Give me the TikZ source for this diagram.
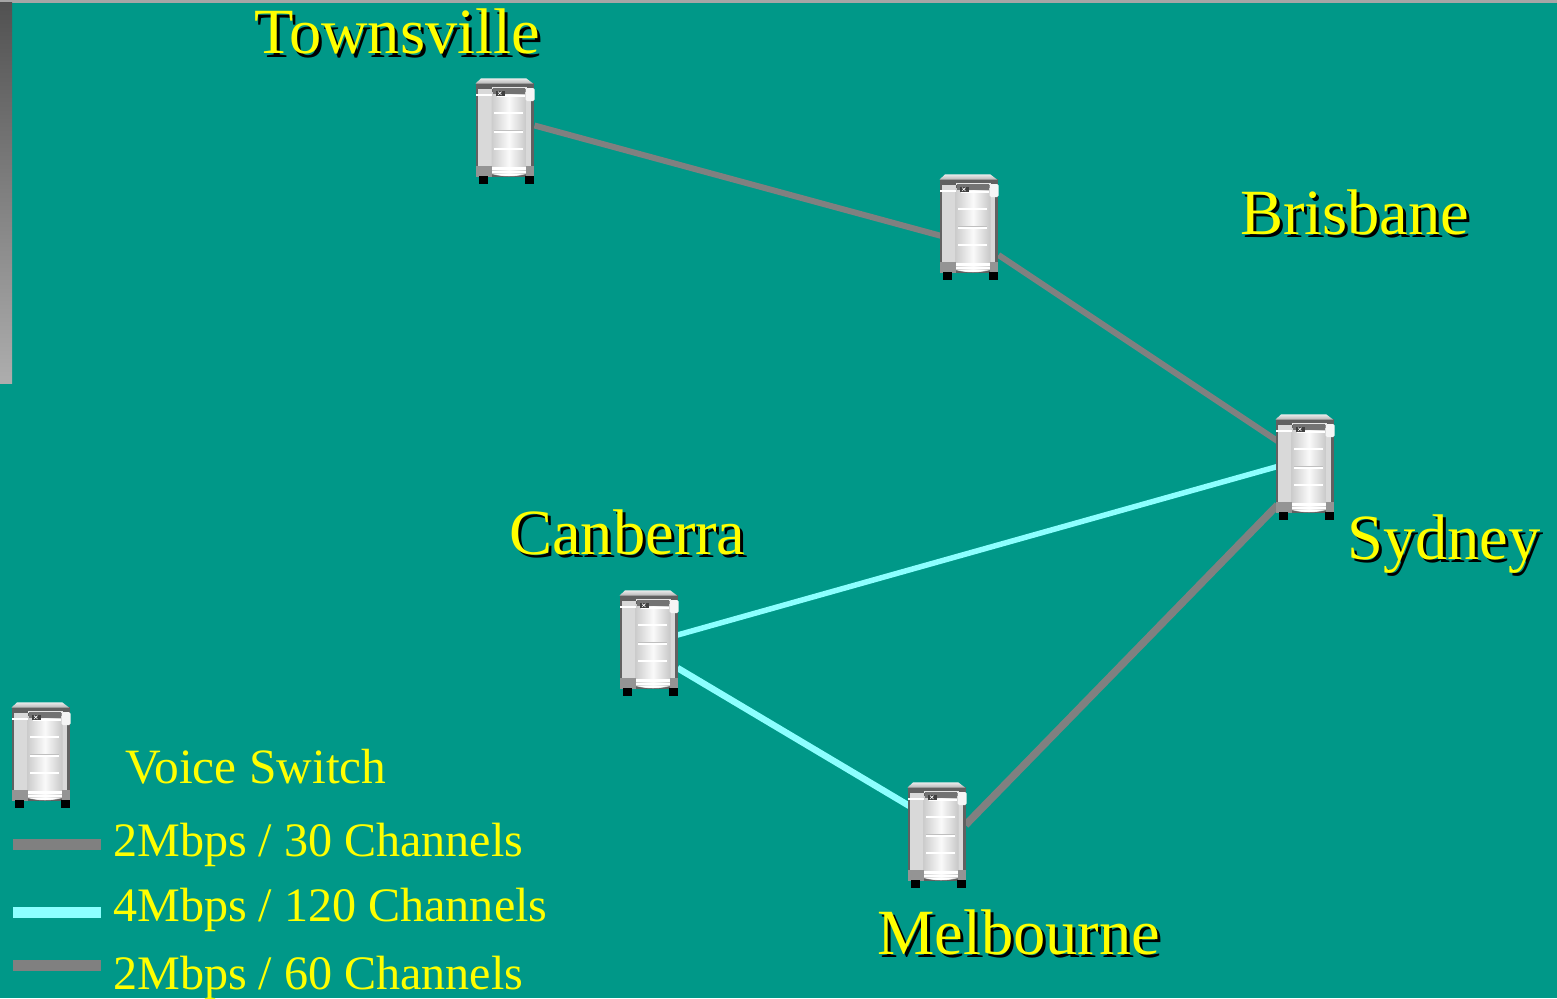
\documentclass[tikz,border=0pt]{standalone}
\usepackage{fontspec}
\setmainfont{Liberation Serif}
\definecolor{bg}{RGB}{0,152,136}
\definecolor{linegray}{RGB}{128,128,128}
\definecolor{linecyan}{RGB}{140,255,255}
\definecolor{txt}{RGB}{255,255,0}
\newcommand{\shadowed}[1]{\makebox[0pt][l]{\kern3pt\raisebox{-3pt}{\color{black}#1}}{\color{txt}#1}}
\tikzset{
  switchbox/.style={minimum width=59pt,minimum height=105pt,inner sep=0pt,outer sep=0pt},
  city/.style={anchor=base west,inner sep=0pt,font=\fontsize{64.5pt}{70pt}\selectfont},
  legendtext/.style={anchor=base west,inner sep=0pt,text=txt,font=\fontsize{48.1pt}{54pt}\selectfont},
  graylink/.style={draw=linegray,line width=6pt},
  cyanlink/.style={draw=linecyan,line width=5.5pt},
  legendgray/.style={draw=linegray,line width=11pt},
  legendcyan/.style={draw=linecyan,line width=11pt},
  switchart/.pic={
    % body
    \fill[black!62] (0.7,5) rectangle (58,99);
    % top cap
    \shade[top color=black!8,bottom color=black!28] (0,5.5) -- (5.7,0.3) -- (50.7,0.3) -- (57.5,5.5) -- cycle;
    % side panels
    \fill[black!15] (2.5,11) rectangle (16,88);
    \fill[black!15] (50,11) rectangle (55.5,88);
    % cylinder
    \shade[left color=black!20,right color=black!22,middle color=black!2] (16,14) -- (51,14) -- (51,96) .. controls (40,99) and (27,99) .. (16,96) -- cycle;
    % top trim
    \fill[white] (0.5,15.5) rectangle (16,18);
    \fill[white!90!black] (16,9) rectangle (51,11);
    % display
    \fill[black!55] (17,10) rectangle (49,16);
    \fill[white] (21,17) rectangle (49,18.5);
    \fill[black!75] (20,13) rectangle (29,17.5);
    \draw[white,line width=0.6pt] (22.5,13.6) -- (26,17) (26,13.6) -- (22.5,17);
    % knob
    \fill[black!4,rounded corners=1.5pt] (50,10) rectangle (59,23);
    % ribs
    \foreach \ry in {35,53.5,71}{
      \draw[black!25,line width=0.4pt] (18,\ry-1) -- (47,\ry-1);
      \fill[white] (18,\ry-0.8) rectangle (47,\ry+1);
    }
    % base
    \fill[black!42] (0.7,88) rectangle (16,99);
    \fill[black!42] (50,88) rectangle (58,99);
    \fill[white] (16.5,89) rectangle (50,92);
    \fill[white] (16.5,93) rectangle (50,95.2);
    \fill[white] (18,96) .. controls (28,98.5) and (38,98.5) .. (48,96) -- cycle;
    % feet
    \fill[black] (3,97.5) rectangle (12.5,105.5);
    \fill[black] (49,97.5) rectangle (58,105.5);
  }
}
\begin{document}
\begin{tikzpicture}[x=1pt,y=-1pt]
\useasboundingbox (0,0) rectangle (1557,998);
\fill[bg] (0,0) rectangle (1557,998);
\fill[black!35] (0,0) rectangle (1557,3);
\shade[top color=black!68,bottom color=black!32] (0,3) rectangle (12,383);

\node[switchbox] (town) at (505,130.5) {};
\node[switchbox] (bris) at (969,226.5) {};
\node[switchbox] (sydn) at (1305,466.5) {};
\node[switchbox] (canb) at (649,642.5) {};
\node[switchbox] (melb) at (937,834.5) {};
\node[switchbox] (leg)  at (41,754.5) {};

\draw[graylink] ([yshift=5pt]town.east) -- ([yshift=-9.5pt,xshift=2pt]bris.west);
\draw[graylink] ([yshift=-28.5pt]bris.east) -- ([yshift=25.5pt,xshift=2pt]sydn.west);
\draw[cyanlink] ([xshift=2pt]sydn.west) -- ([yshift=7.5pt,xshift=-1pt]canb.east);
\draw[cyanlink,line width=6.5pt] ([yshift=-25.5pt,xshift=-1pt]canb.east) -- ([yshift=28.5pt,xshift=2pt]melb.west);
\draw[graylink,line width=7.5pt] ([yshift=9.5pt,xshift=-1pt]melb.east) -- ([yshift=-38.5pt,xshift=2pt]sydn.west);

\pic at (town.north west) {switchart};
\pic at (bris.north west) {switchart};
\pic at (sydn.north west) {switchart};
\pic at (canb.north west) {switchart};
\pic at (melb.north west) {switchart};
\pic at (leg.north west) {switchart};

\node[city] (ltown) at (254,54) {\shadowed{Townsville}};
\node[city] (lbris) at (1240,234) {\shadowed{Brisbane}};
\node[city] (lcanb) at (509,554) {\shadowed{Canberra}};
\node[city] (lsydn) at (1347,559) {\shadowed{Sydney}};
\node[city] (lmelb) at (877,954) {\shadowed{Melbourne}};

\node[legendtext,font=\fontsize{49.4pt}{54pt}\selectfont] (t0) at (125,783) {Voice Switch};
\node[legendtext] (t1) at (113,856) {2Mbps / 30 Channels};
\node[legendtext] (t2) at (113,921) {4Mbps / 120 Channels};
\node[legendtext] (t3) at (113,989) {2Mbps / 60 Channels};

\coordinate (a1) at (13,844.5); \coordinate (b1) at (101,844.5);
\coordinate (a2) at (13,912.5); \coordinate (b2) at (101,912.5);
\coordinate (a3) at (13,965);   \coordinate (b3) at (101,965);
\draw[legendgray] (a1) -- (b1);
\draw[legendcyan] (a2) -- (b2);
\draw[legendgray] (a3) -- (b3);
\end{tikzpicture}
\end{document}
